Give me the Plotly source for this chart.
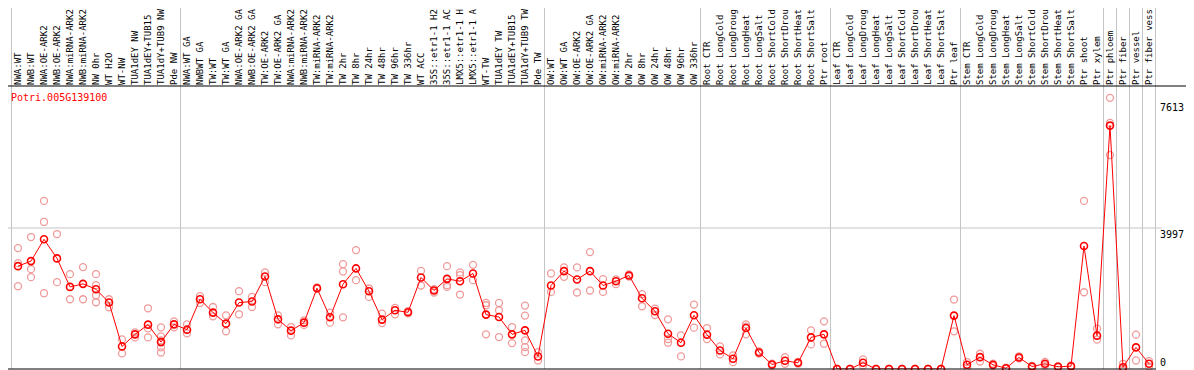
import plotly.graph_objects as go

gene_id = "Potri.005G139100"

labels = [
    "NWA:WT", "NWB:WT", "NWA:OE-ARK2", "NWB:OE-ARK2", "NWA:miRNA-ARK2",
    "NWB:miRNA-ARK2", "NW 0hr", "WT H2O", "WT-NW", "TUA1dEY NW",
    "TUA1dEY+TUB15", "TUA1dY+TUB9 NW", "Pde NW",
    "NWA:WT GA", "NWBWT GA", "TW:WT", "TW:WT GA", "NWA:OE-ARK2 GA",
    "NWB:OE-ARK2 GA", "TW:OE-ARK2", "TW:OE-ARK2 GA", "NWA:miRNA-ARK2",
    "NWB:miRNA-ARK2", "TW:miRNA-ARK2", "TW:miRNA-ARK2", "TW 2hr", "TW 8hr",
    "TW 24hr", "TW 48hr", "TW 96hr", "TW 336hr", "WT ACC", "35S::etr1-1 H2",
    "35S::etr1-1 AC", "LMX5::etr1-1 H", "LMX5::etr1-1 A", "WT-TW",
    "TUA1dEY TW", "TUA1dEY+TUB15", "TUA1dY+TUB9 TW", "Pde TW",
    "OW:WT", "OW:WT GA", "OW:OE-ARK2", "OW:OE-ARK2 GA", "OW:miRNA-ARK2",
    "OW:miRNA-ARK2", "OW 2hr", "OW 8hr", "OW 24hr", "OW 48hr", "OW 96hr",
    "OW 336hr",
    "Root CTR", "Root LongCold", "Root LongDroug", "Root LongHeat",
    "Root LongSalt", "Root ShortCold", "Root ShortDrou", "Root ShortHeat",
    "Root ShortSalt", "Ptr root",
    "Leaf CTR", "Leaf LongCold", "Leaf LongDroug", "Leaf LongHeat",
    "Leaf LongSalt", "Leaf ShortCold", "Leaf ShortDrou", "Leaf ShortHeat",
    "Leaf ShortSalt", "Ptr leaf",
    "Stem CTR", "Stem LongCold", "Stem LongDroug", "Stem LongHeat",
    "Stem LongSalt", "Stem ShortCold", "Stem ShortDrou", "Stem ShortHeat",
    "Stem ShortSalt", "Ptr shoot", "Ptr xylem",
    "Ptr phloem", "Ptr fiber", "Ptr vessel", "Ptr fiber vess",
]

group_sizes = [13, 28, 12, 10, 10, 11, 1, 1, 1, 1]

means = [
    2916, 3058, 3676, 3135, 2327, 2413, 2262, 1883, 640, 982,
    1257, 762, 1266, 1115, 1977, 1599, 1286, 1883, 1912, 2623,
    1408, 1087, 1314, 2290, 1465, 2404, 2851, 2205, 1400, 1664,
    1607, 2595, 2225, 2555, 2489, 2708, 1542, 1474, 982, 1095,
    356, 2367, 2774, 2538, 2774, 2367, 2489, 2652, 2006, 1636,
    1001, 745, 1522, 973, 526, 290, 1161, 469, 128, 233,
    176, 896, 982, 0, 0, 176, 0, 0, 0, 0,
    0, 0, 1514, 119, 336, 119, 23, 327, 71, 148,
    63, 80, 3485, 945, 6899, 51, 612, 148,
]

replicates = [
    [3428, 3001, 2347], [3741, 2831, 2603], [4765, 4168, 2148], [3826, 2461],
    [2689, 1977], [2888, 1977], [2689, 2376, 2091, 1892], [1977, 1750],
    [839, 441], [1038, 896], [1721, 1152, 896], [1181, 925, 811, 612, 469],
    [1351, 1181],
    [1266, 1010], [2063, 1872], [1758, 1494], [1522, 1067], [2205, 1551],
    [2043, 1758], [2737, 2461], [1522, 1266], [1189, 953], [1380, 1250],
    [2310, 2270], [1599, 1314], [2973, 2765, 1465], [3371, 2518],
    [2282, 2043], [1570, 1303], [1730, 1551], [1640, 1575], [2782, 2367],
    [2262, 2168], [2916, 2376, 2327], [2737, 2660, 2111], [2953, 2518],
    [1872, 1807, 982], [1872, 1664, 905], [1189, 734],
    [1798, 1514, 811, 620, 478], [478, 242],
    [2708, 2185], [2879, 2612], [2879, 2168], [3314, 2225], [2546, 2185],
    [2538, 2404], [2680, 2620], [2120, 1778], [1713, 1531], [1408, 848, 745],
    [953, 356], [1826, 1172],
    [1161, 848], [640, 413], [384, 193], [1266, 1200, 982], [500, 440],
    [150, 100], [336, 148], [200, 150], [1095, 697], [1351, 717],
    [0, 0], [0, 0], [270, 100], [0, 0], [0, 0], [0, 0], [0, 0], [0, 0],
    [0, 0], [1969, 1067],
    [193, 51], [432, 213], [150, 90], [40, 10], [360, 300], [90, 50],
    [200, 100], [80, 50], [100, 60], [4765, 2176], [1144, 831],
    [7687, 6976, 6066], [148, 0], [973, 242], [222, 71],
]

y_ticks = [3997, 7613]
y_max = 8022

FONT = "DejaVu Sans Mono"
RED = "#ff0000"
PINK = "#f09a9a"
GRID = "#c4c4c4"

xs = list(range(1, len(labels) + 1))
rep_x, rep_y = [], []
for xi, reps in zip(xs, replicates):
    for v in reps:
        rep_x.append(xi)
        rep_y.append(v)

fig = go.Figure()
fig.add_trace(go.Scatter(
    x=rep_x, y=rep_y, mode="markers", cliponaxis=False,
    marker=dict(symbol="circle-open", size=7, color=PINK, line=dict(width=1.3, color=PINK)),
    showlegend=False, hoverinfo="skip"))
fig.add_trace(go.Scatter(
    x=xs, y=means, mode="lines+markers", cliponaxis=False,
    line=dict(color=RED, width=1),
    marker=dict(symbol="circle-open", size=7, color=RED, line=dict(width=1.6, color=RED)),
    showlegend=False))
fig.add_trace(go.Scatter(x=[None], y=[None], yaxis="y2", showlegend=False))

# group boundaries
bounds = [0.5]
acc = 0
for g in group_sizes:
    acc += g
    bounds.append(acc + 0.5)

TOP = 1.28
shapes = []
for b in bounds:
    shapes.append(dict(type="line", xref="x", yref="paper", x0=b, x1=b, y0=0, y1=TOP,
                       line=dict(color=GRID, width=1), layer="below"))
shapes.append(dict(type="line", xref="paper", yref="y", x0=0, x1=1.005, y0=y_ticks[0], y1=y_ticks[0],
                   line=dict(color=GRID, width=1), layer="below"))
# frame
shapes += [
    dict(type="line", xref="paper", yref="paper", x0=0, x1=1.031, y0=1, y1=1, line=dict(color="black", width=1)),
    dict(type="line", xref="paper", yref="paper", x0=1.0305, x1=1.0305, y0=1, y1=TOP, line=dict(color="black", width=1)),
    dict(type="line", xref="paper", yref="paper", x0=0, x1=1, y0=0, y1=0, line=dict(color="black", width=1)),
]

fig.update_layout(
    template="none",
    width=1186, height=362,
    margin=dict(l=0, r=38, t=78, b=1, pad=0),
    paper_bgcolor="white", plot_bgcolor="white",
    showlegend=False,
    shapes=shapes,
    font=dict(family=FONT, size=10, color="black"),
    xaxis=dict(
        side="top", range=[0.2308, 88.538], tickmode="array", tickvals=xs, ticktext=labels,
        tickangle=-90, tickfont=dict(family=FONT, size=9, color="black"),
        showgrid=False, zeroline=False, showline=False, ticks="", automargin=False,
        ticklabelstandoff=0, fixedrange=True,
    ),
    yaxis=dict(
        side="right", range=[0, y_max], tickmode="array", tickvals=y_ticks,
        ticktext=[f"{v}." for v in y_ticks], ticklabelposition="outside bottom",
        tickfont=dict(family=FONT, size=10, color="black"),
        showgrid=False, zeroline=False, showline=False, ticks="", automargin=False,
        ticklabelstandoff=3,
    ),
    yaxis2=dict(
        overlaying="y", side="right", range=[0, y_max], tickmode="array", tickvals=[0],
        ticktext=["0"], ticklabelposition="outside top",
        tickfont=dict(family=FONT, size=10, color="black"),
        showgrid=False, zeroline=False, showline=False, ticks="", automargin=False,
        ticklabelstandoff=3,
    ),
    annotations=[dict(
        text=gene_id, xref="paper", yref="paper", x=0.001, y=0.961,
        xanchor="left", yanchor="middle", showarrow=False,
        font=dict(family=FONT, size=10, color=RED))],
)

fig.write_html("out.html")
